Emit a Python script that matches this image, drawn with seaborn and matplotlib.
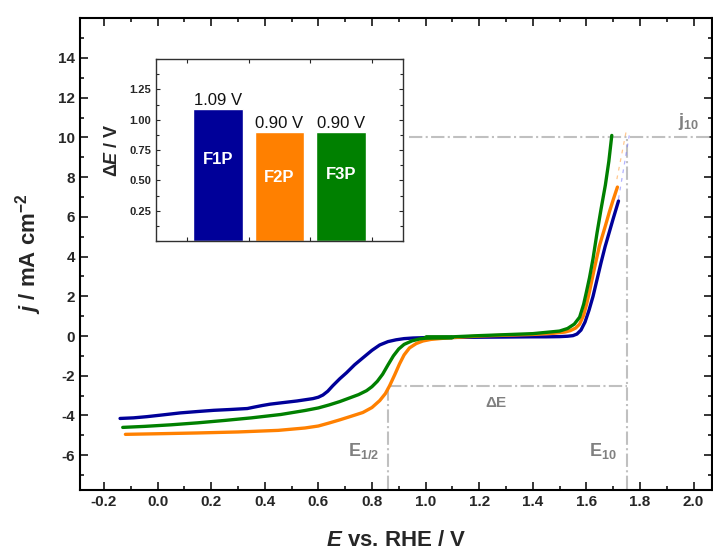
import numpy as np
import pandas as pd
import matplotlib
matplotlib.use("Agg")
import matplotlib.pyplot as plt
import seaborn as sns
from matplotlib.ticker import MultipleLocator

# ---- data: LSV curves (E vs. RHE / V, j / mA cm-2) ----
f1p_E = [-0.14, -0.09, -0.04, 0.02, 0.085, 0.15, 0.21, 0.27, 0.335, 0.36, 0.39, 0.42,
         0.457, 0.52, 0.58, 0.60, 0.617, 0.635, 0.654, 0.68, 0.705, 0.735, 0.766, 0.80,
         0.829, 0.86, 0.89, 0.92, 0.953, 1.0, 1.1, 1.2, 1.3, 1.4, 1.45, 1.50, 1.53, 1.55,
         1.565, 1.58, 1.595, 1.61, 1.625, 1.64, 1.655, 1.67, 1.685, 1.70, 1.72]
f1p_j = [-4.15, -4.12, -4.06, -3.97, -3.87, -3.8, -3.74, -3.7, -3.65, -3.58, -3.5, -3.43,
         -3.37, -3.27, -3.15, -3.08, -2.97, -2.78, -2.5, -2.15, -1.85, -1.45, -1.1, -0.72,
         -0.45, -0.28, -0.19, -0.13, -0.1, -0.08, -0.07, -0.06, -0.05, -0.04, -0.04, -0.03,
         -0.01, 0.02, 0.1, 0.3, 0.7, 1.3, 2.0, 2.85, 3.7, 4.5, 5.2, 5.9, 6.8]

f2p_E = [-0.12, 0.0, 0.15, 0.30, 0.45, 0.55, 0.60, 0.64, 0.68, 0.72, 0.766, 0.80, 0.829,
         0.85, 0.866, 0.885, 0.903, 0.92, 0.94, 0.965, 0.99, 1.02, 1.06, 1.10, 1.20, 1.30,
         1.40, 1.48, 1.52, 1.54, 1.56, 1.575, 1.59, 1.60, 1.612, 1.63, 1.649, 1.67, 1.686,
         1.70, 1.716]
f2p_j = [-4.95, -4.92, -4.88, -4.83, -4.75, -4.63, -4.53, -4.38, -4.22, -4.05, -3.85,
         -3.6, -3.25, -2.9, -2.5, -1.95, -1.4, -0.95, -0.6, -0.38, -0.25, -0.17, -0.12,
         -0.08, 0.0, 0.04, 0.08, 0.14, 0.2, 0.27, 0.4, 0.6, 1.05, 1.55, 2.25, 3.4, 4.55,
         5.5, 6.25, 6.85, 7.5]

f3p_E = [-0.13, -0.05, 0.05, 0.15, 0.25, 0.35, 0.46, 0.55, 0.60, 0.64, 0.68, 0.72, 0.75,
         0.78, 0.80, 0.82, 0.84, 0.86, 0.88, 0.90, 0.92, 0.95, 0.98, 1.00, 1.10, 1.00,
         1.10, 1.20, 1.30, 1.40, 1.50, 1.53, 1.555, 1.575, 1.59, 1.60, 1.612, 1.625, 1.64,
         1.655, 1.671, 1.684, 1.695]
f3p_j = [-4.6, -4.55, -4.47, -4.37, -4.25, -4.12, -3.95, -3.75, -3.62, -3.47, -3.3, -3.1,
         -2.95, -2.75, -2.55, -2.28, -1.92, -1.45, -1.0, -0.65, -0.42, -0.24, -0.14, -0.11,
         -0.08, -0.06, -0.04, 0.02, 0.07, 0.12, 0.25, 0.38, 0.6, 0.95, 1.6, 2.2, 2.95, 3.9,
         5.2, 6.4, 7.6, 8.8, 10.1]

# faint extrapolations to j10
f1p_ext_E = [1.72, 1.76]
f1p_ext_j = [6.9, 10.1]
f2p_ext_E = [1.714, 1.75]
f2p_ext_j = [7.9, 10.4]

# ---- inset data ----
samples = ["F1P", "F2P", "F3P"]
delta_E = [1.09, 0.90, 0.90]
delta_labels = ["1.09 V", "0.90 V", "0.90 V"]
inside_y = [0.67, 0.525, 0.55]

# reference markers
E_half = 0.86
E_10 = 1.75
j_10 = 10.0
j_half = -2.5

colors = {"F1P": "#000099", "F2P": "#FF8000", "F3P": "#008000"}

sns.set_theme(style="ticks")
plt.rcParams["font.family"] = ["Liberation Sans", "DejaVu Sans"]
plt.rcParams["axes.unicode_minus"] = False
plt.rcParams["mathtext.fontset"] = "custom"
plt.rcParams["mathtext.rm"] = "Liberation Sans:bold"
plt.rcParams["mathtext.it"] = "Liberation Sans:bold:italic"
plt.rcParams["mathtext.bf"] = "Liberation Sans:bold"

fig = plt.figure(figsize=(7.13, 5.53), dpi=100)
ax = fig.add_axes([0.112, 0.114, 0.887, 0.853])

# guide lines
gcol = "#C0C0C0"
ax.plot([0.94, 2.1], [j_10, j_10], ls="-.", color=gcol, lw=1.5, zorder=1)
ax.plot([E_10, E_10], [-7.7, j_10], ls="-.", color=gcol, lw=1.5, zorder=1)
ax.plot([E_half, E_half], [-7.7, j_half], ls="-.", color=gcol, lw=1.5, zorder=1)
ax.plot([E_half, E_10], [j_half, j_half], ls="-.", color=gcol, lw=1.5, zorder=1)

ax.plot(f1p_ext_E, f1p_ext_j, ls=(0, (3, 4)), color="#8080FF", lw=0.9, alpha=0.6, zorder=1)
ax.plot(f2p_ext_E, f2p_ext_j, ls=(0, (3, 4)), color="#FFB060", lw=0.9, alpha=0.7, zorder=1)

for name, E, j in [("F1P", f1p_E, f1p_j), ("F2P", f2p_E, f2p_j), ("F3P", f3p_E, f3p_j)]:
    df = pd.DataFrame({"E": E, "j": j})
    sns.lineplot(data=df, x="E", y="j", sort=False, estimator=None, ax=ax,
                 color=colors[name], lw=2.4, zorder=3, solid_joinstyle="round")

ax.set_xlim(-0.29, 2.07)
ax.set_ylim(-7.75, 16)
ax.set_xticks(np.round(np.arange(-0.2, 2.01, 0.2), 1))
ax.set_xticklabels([f"{v:.1f}" for v in np.arange(-0.2, 2.01, 0.2)])
ax.xaxis.set_minor_locator(MultipleLocator(0.1))
ax.set_yticks(np.arange(-6, 15, 2))
ax.yaxis.set_minor_locator(MultipleLocator(1))
ax.tick_params(which="both", direction="in", top=True, right=True,
               labelsize=11, width=1.3)
ax.tick_params(which="major", length=6)
ax.tick_params(which="minor", length=3)
for lab in ax.get_xticklabels() + ax.get_yticklabels():
    lab.set_fontweight("bold")
for s in ax.spines.values():
    s.set_linewidth(1.5)
    s.set_color("black")

ax.set_xlabel(r"$E$ vs. RHE / V", fontsize=16, fontweight="bold", labelpad=15)
ax.set_ylabel(r"$j$ / mA cm$^{-2}$", fontsize=16, fontweight="bold", labelpad=10)

tcol = "#808080"
ax.text(1.98, 10.8, r"j$_{10}$", color=tcol, fontsize=13, fontweight="bold",
        ha="center", va="center")
ax.text(1.265, -3.35, r"$\Delta$E", color=tcol, fontsize=11, fontweight="bold",
        ha="center", va="center")
ax.text(0.77, -5.8, r"E$_{1/2}$", color=tcol, fontsize=13, fontweight="bold",
        ha="center", va="center")
ax.text(1.66, -5.8, r"E$_{10}$", color=tcol, fontsize=13, fontweight="bold",
        ha="center", va="center")

# ---- inset ----
ins = fig.add_axes([0.219, 0.564, 0.346, 0.329])
bdf = pd.DataFrame({"sample": samples, "dE": delta_E})
sns.barplot(data=bdf, x="sample", y="dE", hue="sample", palette=colors,
            width=0.81, ax=ins, legend=False, saturation=1)
ins.set_xlim(-1, 3)
ins.set_ylim(0, 1.5)
ins.set_xticks([-0.5, 0.5, 1.5, 2.5])
ins.set_xticklabels([])
ins.set_yticks([0.25, 0.5, 0.75, 1.0, 1.25])
ins.set_yticklabels(["0.25", "0.50", "0.75", "1.00", "1.25"])
ins.yaxis.set_minor_locator(MultipleLocator(0.125))
ins.tick_params(which="both", direction="in", top=True, right=True,
                labelsize=8, width=0.8)
ins.tick_params(which="major", length=3)
ins.tick_params(which="minor", length=2)
for lab in ins.get_yticklabels():
    lab.set_fontweight("bold")
for s in ins.spines.values():
    s.set_linewidth(1.0)
    s.set_color("#303030")
ins.set_xlabel("")
ins.set_ylabel(r"$\Delta E$ / V", fontsize=13, fontweight="bold", labelpad=6)
for i, (v, lab, yy) in enumerate(zip(delta_E, delta_labels, inside_y)):
    ins.text(i, v + 0.01, lab, ha="center", va="bottom", fontsize=12, color="#111111")
    ins.text(i, yy, samples[i], ha="center", va="center", fontsize=12,
             fontweight="bold", color="white")

fig.savefig("out.png", dpi=100)
